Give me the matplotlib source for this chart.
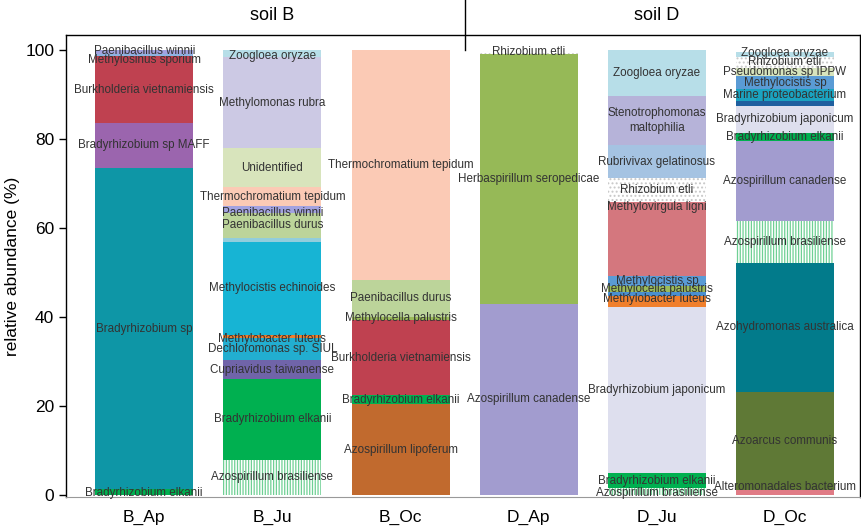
import matplotlib
matplotlib.use('Agg')
import matplotlib.pyplot as plt
import numpy as np

plt.rcParams["font.family"] = ["Liberation Sans", "DejaVu Sans"]
plt.rcParams['hatch.linewidth'] = 0.9

# 样本（柱）名称
samples = ['B_Ap', 'B_Ju', 'B_Oc', 'D_Ap', 'D_Ju', 'D_Oc']

# 每根柱从下往上的物种及其相对丰度 (%)
b_ap_taxa = ['Bradyrhizobium elkanii', 'Bradyrhizobium sp', 'Bradyrhizobium sp MAFF',
             'Burkholderia vietnamiensis', 'Methylosinus sporium', 'Paenibacillus winnii']
b_ap_vals = [1.3, 72.2, 10.2, 14.9, 0.6, 0.8]

b_ju_taxa = ['Azospirillum brasiliense', 'Bradyrhizobium elkanii', 'Cupriavidus taiwanense',
             'Dechloromonas sp. SIUL', 'Methylobacter luteus', 'Methylocistis echinoides', '',
             'Paenibacillus durus', 'Paenibacillus winnii', 'Thermochromatium tepidum',
             'Unidentified', 'Methylomonas rubra', 'Zoogloea oryzae']
b_ju_vals = [8.0, 18.0, 4.4, 4.9, 0.6, 21.1, 0.9, 5.6, 1.4, 4.3, 8.8, 20.5, 1.5]

b_oc_taxa = ['Azospirillum lipoferum', 'Bradyrhizobium elkanii', 'Burkholderia vietnamiensis',
             'Methylocella palustris', 'Paenibacillus durus', 'Thermochromatium tepidum']
b_oc_vals = [20.4, 2.0, 17.0, 0.6, 8.4, 51.6]

d_ap_taxa = ['Azospirillum canadense', 'Herbaspirillum seropedicae', 'Rhizobium etli']
d_ap_vals = [43.0, 56.2, 0.6]

d_ju_taxa = ['Azospirillum brasiliense', 'Bradyrhizobium elkanii', 'Bradyrhizobium japonicum',
             'Methylobacter luteus', ' ', 'Methylocella palustris', 'Methylocistis sp',
             'Methylovirgula ligni', 'Rhizobium etli', 'Rubrivivax gelatinosus',
             'Stenotrophomonas maltophilia', 'Zoogloea oryzae']
d_ju_vals = [1.5, 3.4, 37.3, 2.6, 0.9, 1.2, 2.3, 16.6, 5.4, 7.5, 11.0, 10.3]

d_oc_taxa = ['Alteromonadales bacterium', 'Azoarcus communis', 'Azohydromonas australica',
             'Azospirillum brasiliense', 'Azospirillum canadense', 'Bradyrhizobium elkanii',
             'Bradyrhizobium japonicum', '  ', 'Marine proteobacterium', 'Methylocistis sp',
             'Pseudomonas sp IPPW', 'Rhizobium etli', 'Zoogloea oryzae']
d_oc_vals = [1.1, 22.1, 29.0, 9.5, 17.9, 1.9, 6.0, 1.0, 2.7, 3.0, 1.8, 2.5, 1.1]

bars = [(b_ap_taxa, b_ap_vals), (b_ju_taxa, b_ju_vals), (b_oc_taxa, b_oc_vals),
        (d_ap_taxa, d_ap_vals), (d_ju_taxa, d_ju_vals), (d_oc_taxa, d_oc_vals)]

# 颜色
colors = {
    'Bradyrhizobium elkanii': '#00b050',
    'Bradyrhizobium sp': '#0e96a6',
    'Bradyrhizobium sp MAFF': '#9b65ae',
    'Burkholderia vietnamiensis': '#bf4150',
    'Methylosinus sporium': '#8db4e2',
    'Paenibacillus winnii': '#a2a2e0',
    'Zoogloea oryzae': '#b7dee8',
    'Methylomonas rubra': '#ccc9e4',
    'Unidentified': '#d8e4bc',
    'Thermochromatium tepidum': '#fbcab5',
    'Paenibacillus durus': '#bcd49a',
    '': '#92cddc',
    'Methylocistis echinoides': '#17b4d4',
    'Methylobacter luteus': '#f07f2c',
    'Dechloromonas sp. SIUL': '#22aed0',
    'Cupriavidus taiwanense': '#7064a9',
    'Azospirillum brasiliense': 'white',
    'Azospirillum lipoferum': '#c16a2e',
    'Methylocella palustris': '#9bbb59',
    'Herbaspirillum seropedicae': '#96b957',
    'Rhizobium etli': 'white',
    'Azospirillum canadense': '#a29ccf',
    'Stenotrophomonas maltophilia': '#b6b3d9',
    'Rubrivivax gelatinosus': '#a5c3e2',
    'Methylovirgula ligni': '#d4777e',
    'Methylocistis sp': '#5a9bd5',
    ' ': '#4a8fd0',
    'Bradyrhizobium japonicum': '#dedfee',
    'Pseudomonas sp IPPW': '#d7e4bd',
    'Marine proteobacterium': '#1aa3c0',
    '  ': '#1f5f9f',
    'Azohydromonas australica': '#027b8b',
    'Azoarcus communis': '#5f7936',
    'Alteromonadales bacterium': '#e07b85',
}
hatches = {'Azospirillum brasiliense': ('||||||', '#6fd094'),
           'Rhizobium etli': ('....', '#c8c8c8')}

display = {'Stenotrophomonas maltophilia': 'Stenotrophomonas\nmaltophilia'}

# 拥挤的标签手动放置
label_y = {
    (0, 'Paenibacillus winnii'): 99.8, (0, 'Methylosinus sporium'): 97.7,
    (0, 'Bradyrhizobium elkanii'): 0.4,
    (1, 'Zoogloea oryzae'): 98.8, (1, 'Paenibacillus winnii'): 63.5,
    (1, 'Methylobacter luteus'): 35.2,
    (2, 'Methylocella palustris'): 39.8,
    (3, 'Rhizobium etli'): 99.6,
    (4, 'Methylovirgula ligni'): 64.7, (4, 'Methylobacter luteus'): 44.0,
    (4, 'Azospirillum brasiliense'): 0.4,
    (5, 'Zoogloea oryzae'): 99.3, (5, 'Rhizobium etli'): 97.3,
    (5, 'Pseudomonas sp IPPW'): 95.1, (5, 'Methylocistis sp'): 92.6,
    (5, 'Marine proteobacterium'): 89.9, (5, 'Alteromonadales bacterium'): 1.9,
}

fig = plt.figure(figsize=(8.61, 5.32), dpi=100)
ax = fig.add_axes([0.0767, 0.066, 0.9221, 0.868])

width = 0.765
for i, (taxa, vals) in enumerate(bars):
    bottom = 0
    for name, v in zip(taxa, vals):
        h, hc = hatches.get(name, (None, None))
        if h:
            ax.bar(i, v, width, bottom=bottom, color=colors[name], hatch=h,
                   edgecolor=hc, linewidth=0)
        else:
            ax.bar(i, v, width, bottom=bottom, color=colors[name], linewidth=0)
        if name.strip():
            y = label_y.get((i, name), bottom + v / 2)
            ax.text(i, y, display.get(name, name), ha='center', va='center',
                    fontsize=8.4, color='#333333', linespacing=1.3)
        bottom += v

ax.set_xlim(-0.61, 5.585)
ax.set_ylim(-0.4, 103.4)
ax.set_xticks(range(len(samples)))
ax.set_xticklabels(samples, fontsize=12.5)
ax.tick_params(axis='x', length=0, pad=9)
ax.set_yticks([0, 20, 40, 60, 80, 100])
ax.tick_params(axis='y', labelsize=12.5, length=5, width=1)
ax.set_ylabel('relative abundance (%)', fontsize=12.5, labelpad=4)
for s in ['left', 'top', 'right']:
    ax.spines[s].set_color('black')
    ax.spines[s].set_linewidth(1.0)
ax.spines['bottom'].set_color('#999999')
ax.spines['bottom'].set_linewidth(0.8)

# 土壤分组
ax.plot([2.5, 2.5], [100, 111.5], color='black', lw=1, clip_on=False)
ax.text(1, 107.8, 'soil B', ha='center', va='center', fontsize=13)
ax.text(4, 107.8, 'soil D', ha='center', va='center', fontsize=13)

plt.savefig('out.png', dpi=100)
